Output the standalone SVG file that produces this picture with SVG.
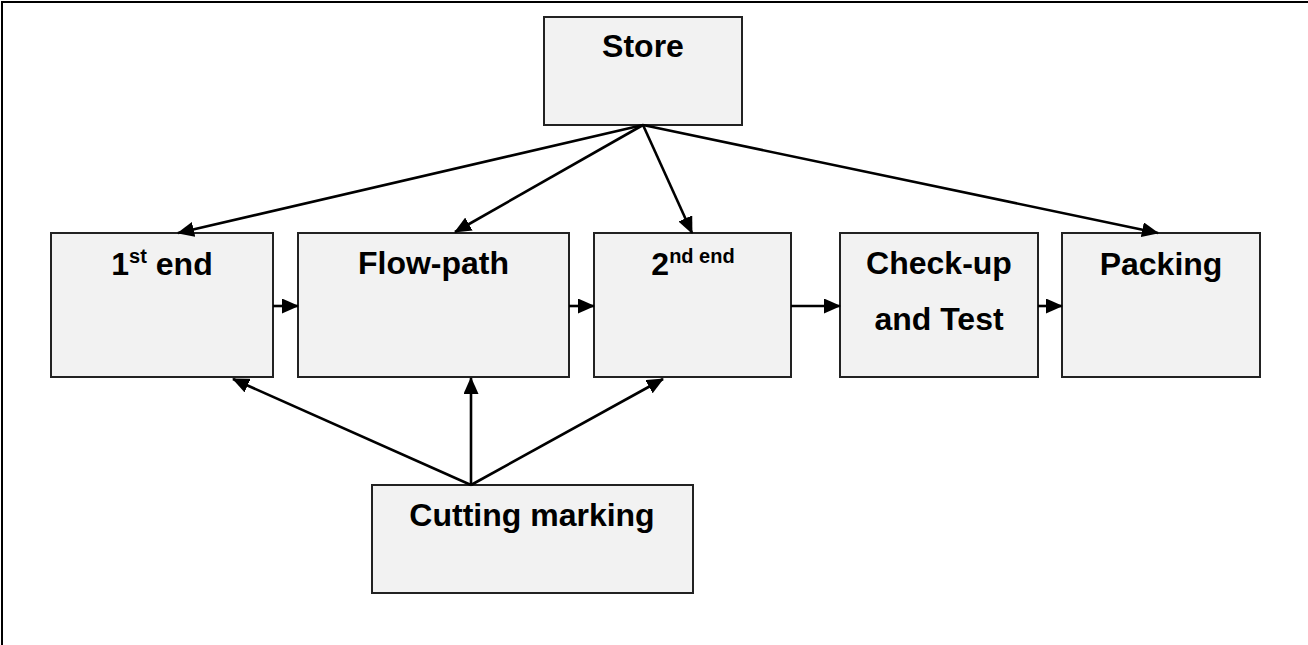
<svg xmlns="http://www.w3.org/2000/svg" width="1308" height="645" viewBox="0 0 1308 645">
<defs>
<style>
.box{fill:#f2f2f2;stroke:#222;stroke-width:2}
.lbl{font-family:"Liberation Sans",Arial,sans-serif;font-weight:bold;font-size:32px;fill:#000;text-anchor:middle}
.sup{font-size:20px}
.con line{stroke:#000;stroke-width:2.6;fill:none;marker-end:url(#ah)}
</style>
<marker id="ah" markerUnits="userSpaceOnUse" markerWidth="17" markerHeight="15" refX="16" refY="7.5" orient="auto" viewBox="0 0 17 15">
<path d="M0,0 L17,7.5 L0,15 z" fill="#000"/>
</marker>
</defs>
<rect width="1308" height="645" fill="#fff"/>
<path d="M2,645 V2 H1308" fill="none" stroke="#000" stroke-width="2"/>
<g id="store"><rect class="box" x="544" y="17" width="198" height="108"/><text class="lbl" x="643" y="57">Store</text></g>
<g id="first-end"><rect class="box" x="51" y="233" width="222" height="144"/><text class="lbl" x="162" y="275">1<tspan class="sup" dy="-12">st</tspan><tspan dy="12"> end</tspan></text></g>
<g id="flow-path"><rect class="box" x="298" y="233" width="271" height="144"/><text class="lbl" x="433.5" y="274">Flow-path</text></g>
<g id="second-end"><rect class="box" x="594" y="233" width="197" height="144"/><text class="lbl" x="693" y="275">2<tspan class="sup" dy="-12">nd end</tspan></text></g>
<g id="check-up"><rect class="box" x="840" y="233" width="198" height="144"/><text class="lbl" x="939" y="274">Check-up</text><text class="lbl" x="939" y="330">and Test</text></g>
<g id="packing"><rect class="box" x="1062" y="233" width="198" height="144"/><text class="lbl" x="1161" y="275">Packing</text></g>
<g id="cutting-marking"><rect class="box" x="372" y="485" width="321" height="108"/><text class="lbl" x="532" y="526">Cutting marking</text></g>
<g id="connectors" class="con">
<line x1="643" y1="125" x2="178" y2="233"/>
<line x1="643" y1="125" x2="455" y2="232"/>
<line x1="643" y1="125" x2="692" y2="233"/>
<line x1="643" y1="125" x2="1158" y2="233"/>
<line x1="273" y1="306" x2="298" y2="306"/>
<line x1="569" y1="306" x2="594" y2="306"/>
<line x1="791" y1="306" x2="840" y2="306"/>
<line x1="1038" y1="306" x2="1062" y2="306"/>
<line x1="471" y1="485" x2="233" y2="379"/>
<line x1="471" y1="485" x2="471" y2="378"/>
<line x1="471" y1="485" x2="663" y2="379"/>
</g>
</svg>
